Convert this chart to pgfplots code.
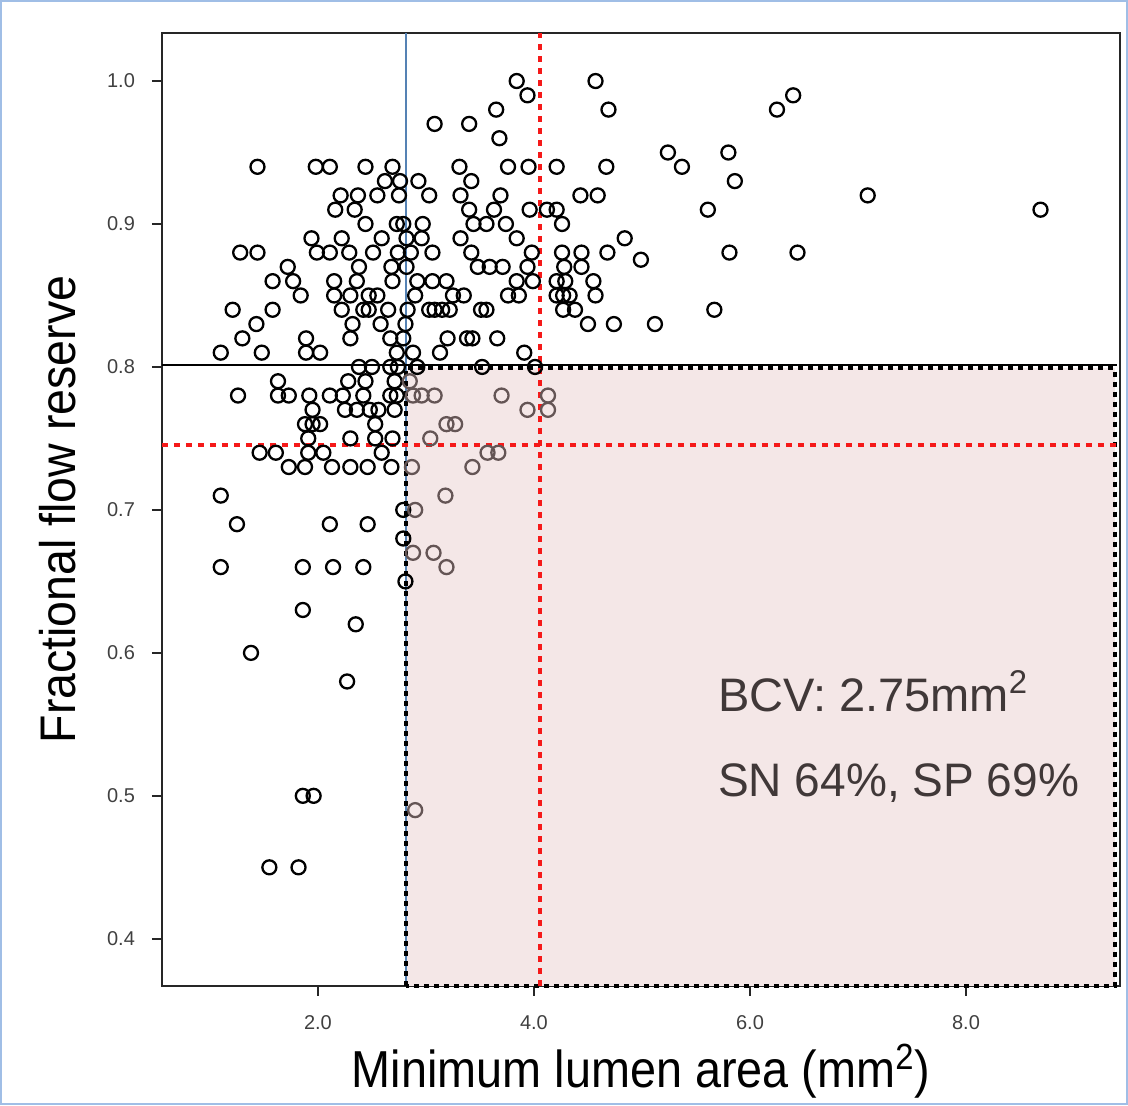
\documentclass[border=0pt]{standalone}
\usepackage{fontspec}
\setmainfont{Liberation Sans}
\usepackage{pgfplots}
\usetikzlibrary{plotmarks}
\pgfplotsset{compat=1.18}
\definecolor{framblue}{RGB}{160,190,230}
\definecolor{boxpink}{RGB}{244,231,231}
\definecolor{txtgray}{RGB}{64,56,56}
\definecolor{blueline}{RGB}{85,130,180}
\definecolor{dotred}{RGB}{245,25,25}
\definecolor{inmark}{RGB}{100,85,85}

% points outside the shaded box
\pgfplotstableread{
x y
3.84 1.00
4.57 1.00
3.94 0.99
6.40 0.99
3.65 0.98
4.69 0.98
6.25 0.98
3.08 0.97
3.40 0.97
3.68 0.96
5.24 0.95
5.80 0.95
1.44 0.94
1.98 0.94
2.11 0.94
2.44 0.94
2.69 0.94
3.31 0.94
3.76 0.94
3.95 0.94
4.21 0.94
4.67 0.94
5.37 0.94
2.62 0.93
2.76 0.93
2.93 0.93
3.42 0.93
5.86 0.93
2.21 0.92
2.37 0.92
2.55 0.92
2.75 0.92
3.03 0.92
3.32 0.92
3.69 0.92
4.43 0.92
4.59 0.92
7.09 0.92
2.16 0.91
2.34 0.91
3.40 0.91
3.63 0.91
3.96 0.91
4.12 0.91
4.21 0.91
5.61 0.91
8.69 0.91
2.44 0.90
2.73 0.90
2.79 0.90
2.97 0.90
3.44 0.90
3.56 0.90
3.74 0.90
4.26 0.90
1.94 0.89
2.22 0.89
2.59 0.89
2.82 0.89
2.96 0.89
3.32 0.89
3.84 0.89
4.84 0.89
1.28 0.88
1.44 0.88
1.99 0.88
2.11 0.88
2.29 0.88
2.51 0.88
2.74 0.88
2.86 0.88
3.06 0.88
3.42 0.88
3.98 0.88
4.26 0.88
4.44 0.88
4.68 0.88
5.81 0.88
6.44 0.88
4.99 0.875
1.72 0.87
2.38 0.87
2.68 0.87
2.82 0.87
3.48 0.87
3.59 0.87
3.71 0.87
3.94 0.87
4.28 0.87
4.44 0.87
1.58 0.86
1.77 0.86
2.15 0.86
2.36 0.86
2.69 0.86
2.92 0.86
3.06 0.86
3.19 0.86
3.84 0.86
3.99 0.86
4.21 0.86
4.29 0.86
4.55 0.86
1.84 0.85
2.15 0.85
2.30 0.85
2.47 0.85
2.55 0.85
2.90 0.85
3.25 0.85
3.35 0.85
3.76 0.85
3.86 0.85
4.21 0.85
4.27 0.85
4.33 0.85
4.57 0.85
1.21 0.84
1.58 0.84
2.22 0.84
2.42 0.84
2.47 0.84
2.65 0.84
2.83 0.84
3.03 0.84
3.08 0.84
3.15 0.84
3.22 0.84
3.51 0.84
3.56 0.84
4.27 0.84
4.38 0.84
5.67 0.84
1.43 0.83
2.32 0.83
2.58 0.83
2.81 0.83
4.50 0.83
4.74 0.83
5.12 0.83
1.30 0.82
1.89 0.82
2.30 0.82
2.67 0.82
2.79 0.82
3.20 0.82
3.38 0.82
3.43 0.82
3.66 0.82
1.10 0.81
1.48 0.81
1.89 0.81
2.02 0.81
2.73 0.81
2.88 0.81
3.13 0.81
3.91 0.81
2.38 0.80
2.50 0.80
2.67 0.80
2.74 0.80
2.92 0.80
3.52 0.80
4.01 0.80
1.63 0.79
2.28 0.79
2.44 0.79
2.71 0.79
1.26 0.78
1.63 0.78
1.73 0.78
1.92 0.78
2.11 0.78
2.23 0.78
2.42 0.78
2.67 0.78
2.73 0.78
1.95 0.77
2.25 0.77
2.36 0.77
2.48 0.77
2.56 0.77
2.71 0.77
1.88 0.76
1.95 0.76
2.02 0.76
2.53 0.76
1.91 0.75
2.30 0.75
2.53 0.75
2.69 0.75
1.46 0.74
1.61 0.74
1.91 0.74
2.05 0.74
2.59 0.74
1.73 0.73
1.88 0.73
2.13 0.73
2.30 0.73
2.46 0.73
2.68 0.73
1.10 0.71
2.79 0.70
1.25 0.69
2.11 0.69
2.46 0.69
2.79 0.68
1.10 0.66
1.86 0.66
2.14 0.66
2.42 0.66
2.81 0.65
1.86 0.63
2.35 0.62
1.38 0.60
2.27 0.58
1.86 0.50
1.96 0.50
1.55 0.45
1.82 0.45
}\outdata

% points inside the shaded box (MLA > cut-off, FFR < 0.80)
\pgfplotstableread{
x y
2.85 0.79
2.88 0.78
2.96 0.78
3.08 0.78
3.70 0.78
4.13 0.78
3.94 0.77
4.13 0.77
3.19 0.76
3.27 0.76
3.04 0.75
3.57 0.74
3.67 0.74
2.87 0.73
3.43 0.73
3.18 0.71
2.90 0.70
2.88 0.67
3.07 0.67
3.19 0.66
2.90 0.49
}\indata

\begin{document}
\begin{tikzpicture}
\begin{axis}[
  scale only axis,
  width=479pt, height=476.5pt,
  xmin=0.556, xmax=9.426,
  ymin=0.367, ymax=1.0336,
  clip=false,
  axis line style={line width=1pt, black!85},
  xtick={2,4,6,8},
  xticklabels={2.0,4.0,6.0,8.0},
  ytick={0.4,0.5,0.6,0.7,0.8,0.9,1.0},
  yticklabels={0.4,0.5,0.6,0.7,0.8,0.9,1.0},
  tick align=outside,
  xtick pos=bottom, ytick pos=left,
  major tick length=5pt,
  tick style={line width=1pt, black!85},
  tick label style={font=\fontsize{10}{11}\selectfont, text=black!75},
  xticklabel style={yshift=-6pt},
  yticklabel style={xshift=-5pt},
  xlabel={\scalebox{0.9}[1]{\fontsize{26}{30}\selectfont Minimum lumen area (mm\textsuperscript{2})}},
  xlabel style={at={(axis description cs:0.5,-0.107)}, anchor=base},
  ylabel={\scalebox{0.93}[1]{\fontsize{25}{29}\selectfont Fractional flow reserve}},
  ylabel style={at={(axis description cs:-0.0898,0.5)}, anchor=base},
]
\fill[fill=boxpink] (axis cs:2.815,0.367) rectangle (axis cs:9.38,0.799);
\draw[blueline, line width=0.8pt] (axis cs:2.815,0.367) -- (axis cs:2.815,1.0336);

\addplot[only marks, mark=o, mark size=3.5pt, mark options={line width=1.15pt, black}] table[x=x, y=y] {\outdata};
\addplot[only marks, mark=o, mark size=3.5pt, mark options={line width=1.15pt, inmark}] table[x=x, y=y] {\indata};

\draw[black, line width=0.8pt] (axis cs:0.556,0.8014) -- (axis cs:9.40,0.8014);
\draw[black, line width=2pt, dash pattern=on 2.5pt off 2.5pt] (axis cs:2.815,0.367) rectangle (axis cs:9.38,0.799);
\draw[dotred, line width=2pt, dash pattern=on 3pt off 3pt] (axis cs:4.056,0.367) -- (axis cs:4.056,1.0336);
\draw[dotred, line width=2pt, dash pattern=on 3pt off 3pt] (axis cs:0.556,0.7455) -- (axis cs:9.40,0.7455);

\node[anchor=base west, text=txtgray, font=\fontsize{23.5}{28}\selectfont] at (axis cs:5.64,0.5587) {BCV: 2.75mm\textsuperscript{2}};
\node[anchor=base west, text=txtgray, font=\fontsize{23.5}{28}\selectfont] at (axis cs:5.64,0.4993) {\scalebox{0.98}[1]{SN 64\%,\ SP 69\%}};

\draw[framblue, line width=1pt] (rel axis cs:-0.16806,-0.12382) rectangle (rel axis cs:1.00731,1.03358);
\end{axis}
\end{tikzpicture}
\end{document}
